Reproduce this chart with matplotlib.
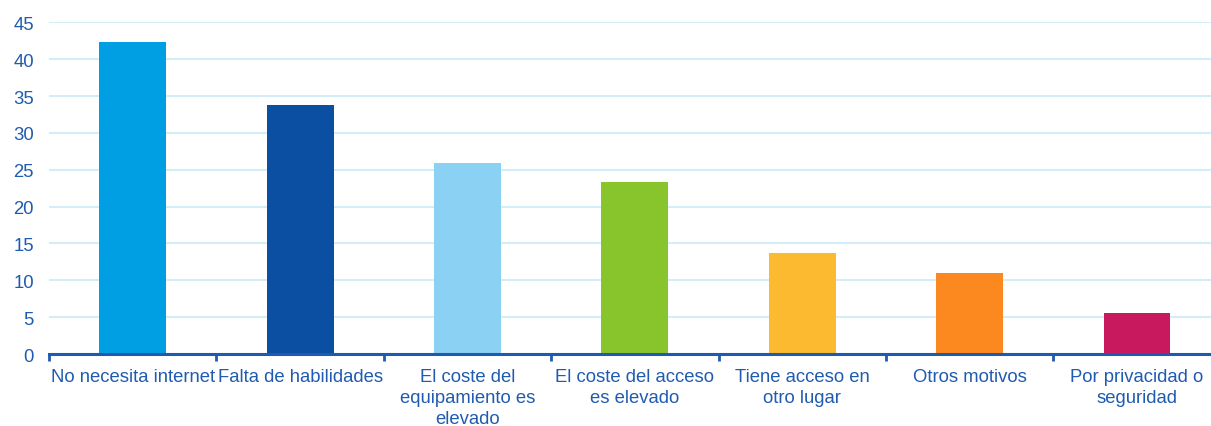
import numpy as np
import matplotlib
matplotlib.use('Agg')
import matplotlib.pyplot as plt

plt.rcParams['font.family'] = ['Liberation Sans', 'DejaVu Sans']

# 数据
categories = ["No necesita internet", "Falta de habilidades",
              "El coste del\nequipamiento es\nelevado", "El coste del acceso\nes elevado",
              "Tiene acceso en\notro lugar", "Otros motivos", "Por privacidad o\nseguridad"]
values = [42.3, 33.8, 25.9, 23.3, 13.7, 11.0, 5.5]
colors = ["#009FE3", "#0B4FA3", "#8AD1F3", "#88C52D", "#FBBA2F", "#FB891F", "#C8195E"]
yticks = [0, 5, 10, 15, 20, 25, 30, 35, 40, 45]

text_color = "#1F5BB0"
axis_color = "#1E5AAF"
grid_color = "#D4EEF9"

fig = plt.figure(figsize=(12.11, 4.27), dpi=100)
ax = fig.add_axes([0.0405, 0.1686, 0.9675, 0.7765])

x = np.arange(len(categories))
ax.bar(x, values, width=0.4, color=colors, zorder=3)

ax.set_xlim(-0.5, len(categories) - 0.5)
ax.set_ylim(0, 45)
ax.set_yticks(yticks)
ax.yaxis.grid(True, color=grid_color, linewidth=1.5, zorder=0)
ax.set_axisbelow(True)

ax.set_xticks(x)
ax.set_xticklabels(categories, fontsize=13.3, color=text_color, linespacing=1.3)
ax.set_xticks(np.arange(len(categories) + 1) - 0.5, minor=True)
ax.tick_params(axis='x', which='major', length=0, pad=10)
ax.tick_params(axis='x', which='minor', length=5, width=2, color=axis_color, direction='out')
ax.tick_params(axis='y', length=0, pad=11, labelsize=13.3, labelcolor=text_color)

for s in ['top', 'right', 'left']:
    ax.spines[s].set_visible(False)
ax.spines['bottom'].set_color(axis_color)
ax.spines['bottom'].set_linewidth(2.2)
ax.spines['bottom'].set_zorder(4)

fig.savefig("out.png", dpi=100)
